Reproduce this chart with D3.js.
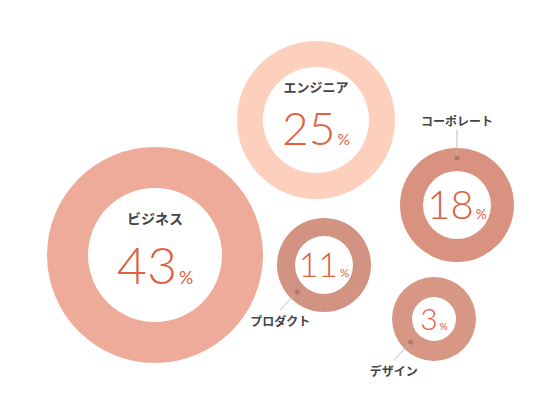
<!DOCTYPE html><html><head><meta charset="utf-8"><script src="https://cdn.jsdelivr.net/npm/d3@7"></script>
<style>body{margin:0;background:#fff}</style></head><body><svg id="c" width="560" height="420"></svg><script>
const categories=["ビジネス","エンジニア","コーポレート","プロダクト","デザイン"];
const values=[43,25,18,11,3];
const colors=["#efab9a","#fdd0bd","#d8927f","#d39383","#d89684"];
const cx=[155,316,457,324,434], cy=[255,120,205,265,319];
const outerR=[108,79,57,47,42], innerR=[67,53,34,29,22];
const numSize=[52,46,40,34,30], labSize=[14,13,12,12,12];
const labMode=[0,0,1,2,2];
const svg=d3.select("#c");
const arc=d3.arc();
categories.forEach((c,i)=>{
  const g=svg.append("g").attr("transform",`translate(${cx[i]},${cy[i]})`);
  g.append("path").attr("d",arc({innerRadius:innerR[i],outerRadius:outerR[i],startAngle:0,endAngle:2*Math.PI})).attr("fill",colors[i]);
  const num=g.append("text").attr("text-anchor","middle").attr("fill","#e0603f").attr("font-family","Lato, 'Open Sans', sans-serif").attr("font-weight",300);
  const dy=labMode[i]===0?numSize[i]*0.55:numSize[i]*0.36;
  num.attr("y",dy);
  num.append("tspan").attr("font-size",numSize[i]).text(values[i]);
  num.append("tspan").attr("font-size",numSize[i]*0.34).attr("dx",2).attr("font-weight",400).text("%");
  const lab=g.append("text").attr("text-anchor","middle").attr("fill","#444").attr("font-weight","bold").attr("font-family","'Noto Sans CJK JP', sans-serif").attr("font-size",labSize[i]).text(c);
  if(labMode[i]===0){lab.attr("y",-numSize[i]*0.6);}
  else if(labMode[i]===1){
    g.append("line").attr("x1",0).attr("y1",-outerR[i]+10).attr("x2",0).attr("y2",-outerR[i]-18).attr("stroke","#bbb");
    g.append("circle").attr("cy",-outerR[i]+10).attr("r",2.5).attr("fill","#b87566");
    lab.attr("y",-outerR[i]-22);
  } else {
    const a=Math.PI*0.75, r=outerR[i]-9, px=r*Math.cos(a), py=r*Math.sin(a);
    g.append("line").attr("x1",px).attr("y1",py).attr("x2",px-17).attr("y2",py+18).attr("stroke","#bbb");
    g.append("circle").attr("cx",px).attr("cy",py).attr("r",2.5).attr("fill","#b87566");
    lab.attr("x",px-17).attr("y",py+34);
  }
});
</script></body></html>
